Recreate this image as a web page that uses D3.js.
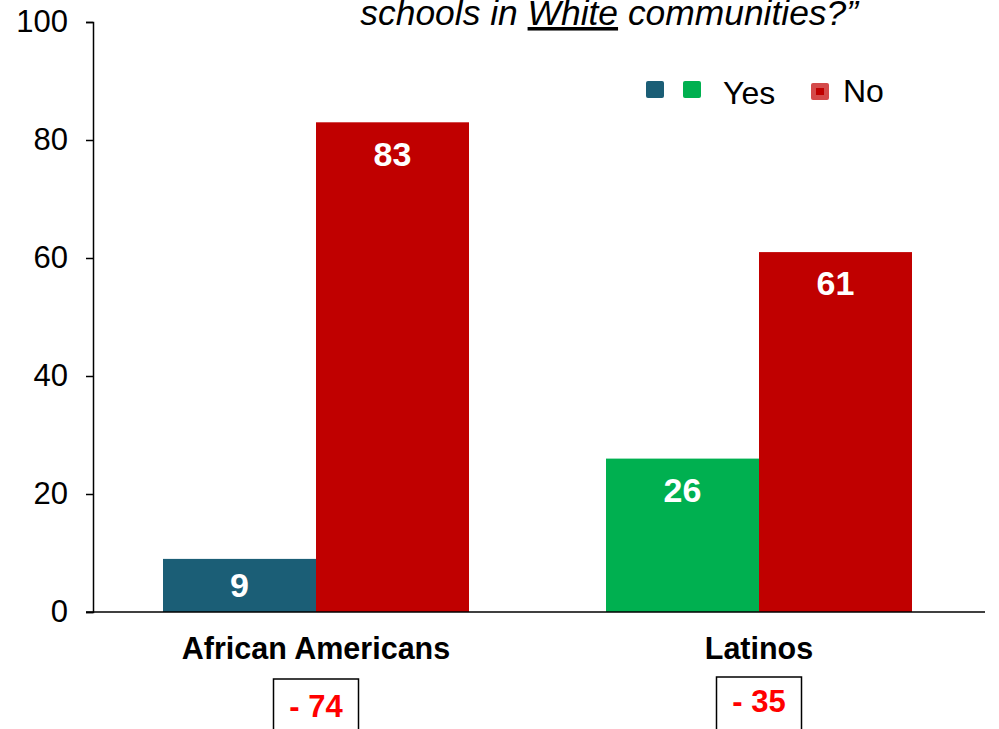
<!DOCTYPE html>
<html>
<head>
<meta charset="utf-8">
<script src="https://cdn.jsdelivr.net/npm/d3@7"></script>
<style>
  html, body { margin: 0; padding: 0; background: #fff; }
  svg { display: block; font-family: "Liberation Sans", Arial, sans-serif; }
</style>
</head>
<body>
<svg id="chart" width="999" height="729"></svg>
<script>
// Survey responses by group
const groups = ["African Americans", "Latinos"];
const yesValues = [9, 26];
const noValues = [83, 61];
const gapLabels = ["- 74", "- 35"];
const yTicks = [0, 20, 40, 60, 80, 100];
const yesColors = ["#1b5e76", "#00b050"];
const noColor = "#c00000";

const svg = d3.select("#chart");

const x = d3.scaleBand().domain(groups).range([94.5, 980.5]);
const y = d3.scaleLinear().domain([0, 100]).range([612, 22]);
const barW = 153;

// Question text (continuation line of the title)
const title = svg.append("text")
  .attr("x", 858).attr("y", 25)
  .attr("text-anchor", "end")
  .attr("font-size", 35.4)
  .attr("font-style", "italic")
  .attr("fill", "#000");
title.append("tspan").text("schools in ");
title.append("tspan").attr("text-decoration", "underline").text("White");
title.append("tspan").text(" communities?\u201D");

// Bars
const g = svg.append("g");
groups.forEach((grp, i) => {
  const cx = x(grp) + x.bandwidth() / 2;
  const bars = [
    { v: yesValues[i], x0: cx - barW, color: yesColors[i] },
    { v: noValues[i], x0: cx, color: noColor }
  ];
  bars.forEach(b => {
    g.append("rect")
      .attr("x", b.x0).attr("y", y(b.v))
      .attr("width", barW).attr("height", y(0) - y(b.v))
      .attr("fill", b.color);
    const top = y(b.v), bottom = y(0);
    const cy = Math.min(top + 31, (top + bottom) / 2 - 1);
    g.append("text")
      .attr("x", b.x0 + barW / 2).attr("y", cy)
      .attr("dy", "0.36em")
      .attr("text-anchor", "middle")
      .attr("font-size", 34).attr("font-weight", "bold")
      .attr("fill", "#fff")
      .text(b.v);
  });

  // Category label
  svg.append("text")
    .attr("x", cx).attr("y", 659)
    .attr("text-anchor", "middle")
    .attr("font-size", 30.5).attr("font-weight", "bold")
    .attr("fill", "#000")
    .text(grp);

  // Gap box
  const by = i === 0 ? 679 : 677;
  svg.append("rect")
    .attr("x", cx - 42.5).attr("y", by)
    .attr("width", 85).attr("height", 60)
    .attr("fill", "#fff").attr("stroke", "#000").attr("stroke-width", 1.5);
  svg.append("text")
    .attr("x", cx).attr("y", i === 0 ? 717 : 712)
    .attr("text-anchor", "middle")
    .attr("font-size", 31).attr("font-weight", "bold")
    .attr("fill", "#ff0000")
    .text(gapLabels[i]);
});

// Y axis
const yAxis = svg.append("g")
  .attr("transform", "translate(93,0)")
  .call(d3.axisLeft(y).tickValues(yTicks).tickSize(7).tickPadding(18));
yAxis.select(".domain").attr("stroke", "#000").attr("stroke-width", 1.5);
yAxis.selectAll(".tick line").attr("stroke", "#000").attr("stroke-width", 1.5);
yAxis.selectAll(".tick text")
  .attr("font-size", 31).attr("fill", "#000")
  .attr("font-family", "Liberation Sans, Arial, sans-serif");

// X axis baseline
svg.append("line")
  .attr("x1", 86).attr("x2", 985)
  .attr("y1", y(0)).attr("y2", y(0))
  .attr("stroke", "#000").attr("stroke-width", 1.5);

// Legend
const lg = svg.append("g");
lg.append("rect").attr("x", 646).attr("y", 81).attr("width", 18).attr("height", 17).attr("rx", 2).attr("fill", yesColors[0]);
lg.append("rect").attr("x", 683).attr("y", 81).attr("width", 18).attr("height", 17).attr("rx", 2).attr("fill", yesColors[1]);
lg.append("text").attr("x", 723).attr("y", 104).attr("font-size", 32).attr("fill", "#000").text("Yes");
lg.append("rect").attr("x", 811).attr("y", 83).attr("width", 18).attr("height", 17).attr("rx", 2).attr("fill", "#d44a4a");
lg.append("rect").attr("x", 816).attr("y", 88).attr("width", 8).attr("height", 7).attr("fill", noColor);
lg.append("text").attr("x", 843).attr("y", 102).attr("font-size", 32).attr("fill", "#000").text("No");
</script>
</body>
</html>
